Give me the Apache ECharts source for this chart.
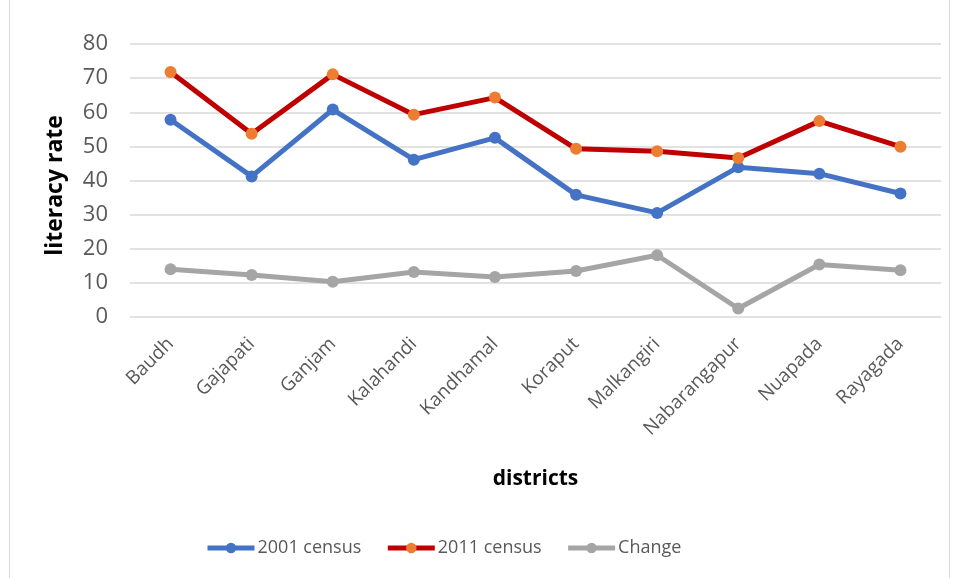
<!DOCTYPE html>
<html><head><meta charset="utf-8">
<script src="https://cdn.jsdelivr.net/npm/echarts@6/dist/echarts.min.js"></script>
<style>html,body{margin:0;padding:0;background:#fff}#c{width:955px;height:578px}</style>
</head><body><div id="c"></div>
<script>
const categories = ['Baudh','Gajapati','Ganjam','Kalahandi','Kandhamal','Koraput','Malkangiri','Nabarangapur','Nuapada','Rayagada'];
const census2001 = [57.8, 41.2, 60.8, 46.1, 52.5, 35.8, 30.5, 43.9, 42.0, 36.2];
const census2011 = [71.8, 53.7, 71.1, 59.3, 64.3, 49.3, 48.6, 46.6, 57.4, 49.9];
const change = [14.0, 12.3, 10.3, 13.2, 11.7, 13.5, 18.1, 2.5, 15.4, 13.7];
const yTicks = [0, 80, 10];

const chart = echarts.init(document.getElementById('c'));
const font = '"Open Sans", "Liberation Sans", sans-serif';
function ser(name, data, lineColor, markColor) {
  return {
    name, type: 'line', data, symbol: 'circle', symbolSize: 12,
    lineStyle: {width: 5, color: lineColor},
    itemStyle: {color: markColor},
    emphasis: {disabled: true}
  };
}
chart.setOption({
  animation: false,
  textStyle: {fontFamily: font},
  graphic: [{type: 'rect', shape: {x: 9.5, y: -5, width: 940, height: 590}, style: {fill: 'none', stroke: '#d9d9d9', lineWidth: 1}}],
  grid: {left: 130, right: 14, top: 44, bottom: 261},
  legend: {
    bottom: 16, left: 200, itemWidth: 47, itemHeight: 13, itemGap: 24,
    lineStyle: {width: 5},
    textStyle: {fontSize: 18, color: '#595959', fontFamily: font, padding: [0, 0, 0, -2]},
    data: ['2001 census', '2011 census', 'Change']
  },
  xAxis: {
    type: 'category', data: categories, boundaryGap: true,
    name: 'districts', nameLocation: 'middle', nameGap: 152,
    nameTextStyle: {fontSize: 21, fontWeight: 'bold', color: '#000', fontFamily: font},
    axisLine: {show: false}, axisTick: {show: false},
    axisLabel: {rotate: 45, fontSize: 19, color: '#595959', margin: 24, interval: 0}
  },
  yAxis: {
    type: 'value', min: yTicks[0], max: yTicks[1], interval: yTicks[2],
    name: 'literacy rate', nameLocation: 'middle', nameGap: 63, nameRotate: 90,
    nameTextStyle: {fontSize: 23, fontWeight: 'bold', color: '#000', fontFamily: font, padding: [0, 10, 0, 0]},
    axisLine: {show: false}, axisTick: {show: false},
    axisLabel: {fontSize: 22, color: '#595959', margin: 22},
    splitLine: {lineStyle: {color: '#d9d9d9', width: 1.5}}
  },
  series: [
    ser('2001 census', census2001, '#4472c4', '#4472c4'),
    ser('2011 census', census2011, '#c00000', '#ed7d31'),
    ser('Change', change, '#a5a5a5', '#a5a5a5')
  ]
});
</script></body></html>
